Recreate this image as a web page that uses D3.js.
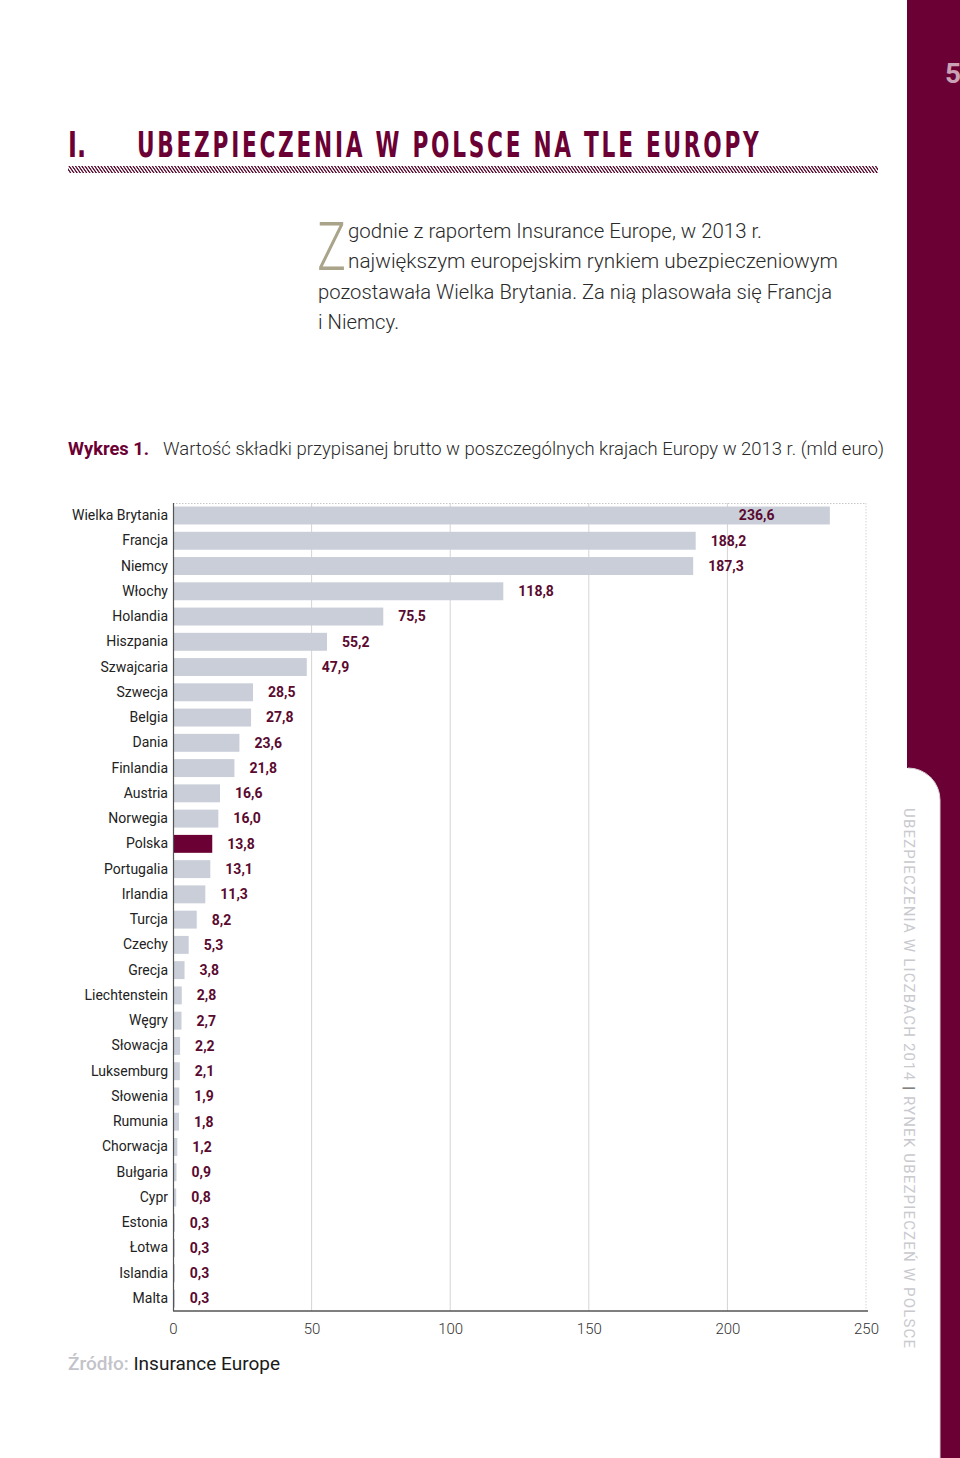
<!DOCTYPE html>
<html>
<head>
<meta charset="utf-8">
<script src="https://cdn.jsdelivr.net/npm/d3@7"></script>
<style>
  body { margin: 0; background: #fff; }
  svg { display: block; font-family: Roboto, "Open Sans", sans-serif; }
</style>
</head>
<body>
<div id="page"></div>
<script>
// data
const countries = ["Wielka Brytania", "Francja", "Niemcy", "Włochy", "Holandia", "Hiszpania",
  "Szwajcaria", "Szwecja", "Belgia", "Dania", "Finlandia", "Austria", "Norwegia", "Polska",
  "Portugalia", "Irlandia", "Turcja", "Czechy", "Grecja", "Liechtenstein", "Węgry", "Słowacja",
  "Luksemburg", "Słowenia", "Rumunia", "Chorwacja", "Bułgaria", "Cypr", "Estonia", "Łotwa",
  "Islandia", "Malta"];
const premiums = [236.6, 188.2, 187.3, 118.8, 75.5, 55.2, 47.9, 28.5, 27.8, 23.6, 21.8, 16.6,
  16.0, 13.8, 13.1, 11.3, 8.2, 5.3, 3.8, 2.8, 2.7, 2.2, 2.1, 1.9, 1.8, 1.2, 0.9, 0.8, 0.3, 0.3,
  0.3, 0.3];
const xTicks = [0, 50, 100, 150, 200, 250];
const highlight = "Polska";

const data = countries.map((c, i) => ({ country: c, value: premiums[i] }));

const maroon = "#6b0034";
const W = 960, H = 1458;

const svg = d3.select("#page").append("svg")
    .attr("width", W)
    .attr("height", H);

// hatch pattern for the title rule
const defs = svg.append("defs");
defs.append("pattern")
    .attr("id", "hatch")
    .attr("patternUnits", "userSpaceOnUse")
    .attr("width", 3.2)
    .attr("height", 8)
    .attr("patternTransform", "skewX(35)")
  .append("rect")
    .attr("width", 1.6)
    .attr("height", 8)
    .attr("fill", "#5e1236");

//=== side band ===
svg.append("rect")
    .attr("x", 907).attr("y", 0)
    .attr("width", 53).attr("height", H)
    .attr("fill", maroon);

svg.append("path")
    .attr("d", `M907,${H} L907,768 L908,768 A32,32 0 0 1 940,800 L940,${H} Z`)
    .attr("fill", "#fff");
svg.append("path")
    .attr("d", `M908,768 A32,32 0 0 1 940,800 L940,${H}`)
    .attr("fill", "none")
    .attr("stroke", "#d6d3d6")
    .attr("stroke-width", 1);

svg.append("text")
    .attr("x", 945).attr("y", 83)
    .attr("font-size", 28)
    .attr("font-weight", "bold")
    .attr("fill", "#c9a3b5")
    .text("5");

const side = svg.append("text")
    .attr("transform", "translate(904,808) rotate(90)")
    .attr("font-size", 15)
    .attr("fill", "#c9c9ce")
    .attr("textLength", 540)
    .attr("lengthAdjust", "spacing");
side.append("tspan").text("UBEZPIECZENIA W LICZBACH 2014 ");
side.append("tspan").attr("fill", "#666").text("|");
side.append("tspan").text(" RYNEK UBEZPIECZEŃ W POLSCE");

//=== header ===
const titleFont = "'DejaVu Sans Condensed', 'DejaVu Sans', sans-serif";
svg.append("text")
    .attr("x", 68).attr("y", 157)
    .attr("font-family", titleFont)
    .attr("font-weight", "bold")
    .attr("font-size", 35)
    .attr("fill", maroon)
    .attr("textLength", 18)
    .attr("lengthAdjust", "spacingAndGlyphs")
    .text("I.");

// title squeezed to its width with a horizontal scale
const title = svg.append("text")
    .attr("x", 0).attr("y", 0)
    .attr("font-family", titleFont)
    .attr("font-weight", "bold")
    .attr("font-size", 35)
    .attr("letter-spacing", 4)
    .attr("fill", maroon)
    .text("UBEZPIECZENIA W POLSCE NA TLE EUROPY");
const tw = title.node().getComputedTextLength() - 4;
title.attr("transform", `translate(137,157) scale(${622 / tw},1)`);

svg.append("rect")
    .attr("x", 68).attr("y", 166)
    .attr("width", 810).attr("height", 7)
    .attr("fill", "url(#hatch)");

// intro paragraph
svg.append("text")
    .attr("x", 317).attr("y", 270)
    .attr("font-size", 66)
    .attr("font-weight", 300)
    .attr("fill", "#aaa48b")
    .attr("textLength", 29)
    .attr("lengthAdjust", "spacingAndGlyphs")
    .text("Z");

const intro = [
  { x: 348, y: 238, w: 414, t: "godnie z raportem Insurance Europe, w 2013 r." },
  { x: 348, y: 268, w: 490, t: "największym europejskim rynkiem ubezpieczeniowym" },
  { x: 318, y: 299, w: 514, t: "pozostawała Wielka Brytania. Za nią plasowała się Francja" },
  { x: 318, y: 329, w: 81, t: "i Niemcy." }
];
svg.selectAll("text.intro")
    .data(intro)
    .join("text")
    .attr("class", "intro")
    .attr("x", d => d.x).attr("y", d => d.y)
    .attr("font-size", 20)
    .attr("font-weight", 300)
    .attr("fill", "#2a2a2a")
    .attr("textLength", d => d.w)
    .attr("lengthAdjust", "spacingAndGlyphs")
    .text(d => d.t);

// caption
svg.append("text")
    .attr("x", 68).attr("y", 455)
    .attr("font-size", 18)
    .attr("font-weight", "bold")
    .attr("fill", maroon)
    .attr("textLength", 81)
    .attr("lengthAdjust", "spacingAndGlyphs")
    .text("Wykres 1.");
svg.append("text")
    .attr("x", 163).attr("y", 455)
    .attr("font-size", 18)
    .attr("font-weight", 300)
    .attr("fill", "#2a2a2a")
    .attr("textLength", 721)
    .attr("lengthAdjust", "spacingAndGlyphs")
    .text("Wartość składki przypisanej brutto w poszczególnych krajach Europy w 2013 r. (mld euro)");

//=== chart ===
const margin = { top: 503, left: 173 };
const width = 693, height = 808;

const g = svg.append("g")
    .attr("transform", `translate(${margin.left},${margin.top})`);

const xScale = d3.scaleLinear()
    .domain([0, 250])
    .range([0, width]);

const yScale = d3.scaleBand()
    .domain(countries)
    .range([0, height])
    .paddingInner(0.29)
    .paddingOuter(0.14);

// grid
g.selectAll("line.grid")
    .data(xTicks.slice(1))
    .join("line")
    .attr("class", "grid")
    .attr("x1", d => xScale(d)).attr("x2", d => xScale(d))
    .attr("y1", 0).attr("y2", height)
    .attr("stroke", "#d4d4d4")
    .attr("stroke-width", 1)
    .attr("stroke-dasharray", d => d === 250 ? "1.5,1.5" : null);

g.append("line")
    .attr("x1", 0).attr("x2", xScale(250))
    .attr("y1", 0.5).attr("y2", 0.5)
    .attr("stroke", "#c8c8c8")
    .attr("stroke-dasharray", "1.5,1.5");

// bars
g.selectAll("rect.bar")
    .data(data)
    .join("rect")
    .attr("class", "bar")
    .attr("x", 1)
    .attr("y", d => yScale(d.country))
    .attr("width", d => Math.max(xScale(d.value), 1))
    .attr("height", yScale.bandwidth())
    .attr("fill", d => d.country === highlight ? maroon : "#c9ced9");

// value labels
const fmt = v => d3.format(".1f")(v).replace(".", ",");
g.selectAll("text.val")
    .data(data)
    .join("text")
    .attr("class", "val")
    .attr("x", d => {
        const lx = xScale(d.value) + 16;
        return lx + 45 > width ? xScale(d.value) - 90 : lx;
    })
    .attr("y", d => yScale(d.country) + yScale.bandwidth() / 2)
    .attr("dy", "0.35em")
    .attr("font-size", 14)
    .attr("font-weight", "bold")
    .attr("fill", "#5a0a30")
    .text(d => fmt(d.value));

// axes
const xAxis = d3.axisBottom(xScale)
    .tickValues(xTicks)
    .tickSize(0)
    .tickPadding(12)
    .tickFormat(d3.format("d"));

const yAxis = d3.axisLeft(yScale)
    .tickSize(0)
    .tickPadding(5);

const xg = g.append("g")
    .attr("class", "axis x-axis")
    .attr("transform", `translate(0,${height})`)
    .call(xAxis);
xg.select(".domain").attr("stroke", "#555").attr("stroke-width", 1.4).attr("d", `M0,0H${width + 2}`);
xg.selectAll("text")
    .attr("font-family", "Roboto, sans-serif")
    .attr("font-size", 15)
    .attr("font-weight", 300)
    .attr("fill", "#333");

const yg = g.append("g")
    .attr("class", "axis y-axis")
    .call(yAxis);
yg.select(".domain").attr("stroke", "#555").attr("stroke-width", 1.2).attr("d", `M0.5,0V${height}`);
yg.selectAll("text")
    .attr("font-family", "Roboto, sans-serif")
    .attr("font-size", 14)
    .attr("fill", "#222");

// source
const src = svg.append("text")
    .attr("x", 68).attr("y", 1370)
    .attr("font-size", 19)
    .attr("textLength", 212)
    .attr("lengthAdjust", "spacingAndGlyphs");
src.append("tspan")
    .attr("fill", "#c3c3ca")
    .attr("font-weight", 500)
    .text("Źródło: ");
src.append("tspan")
    .attr("fill", "#1a1a1a")
    .text("Insurance Europe");
</script>
</body>
</html>
